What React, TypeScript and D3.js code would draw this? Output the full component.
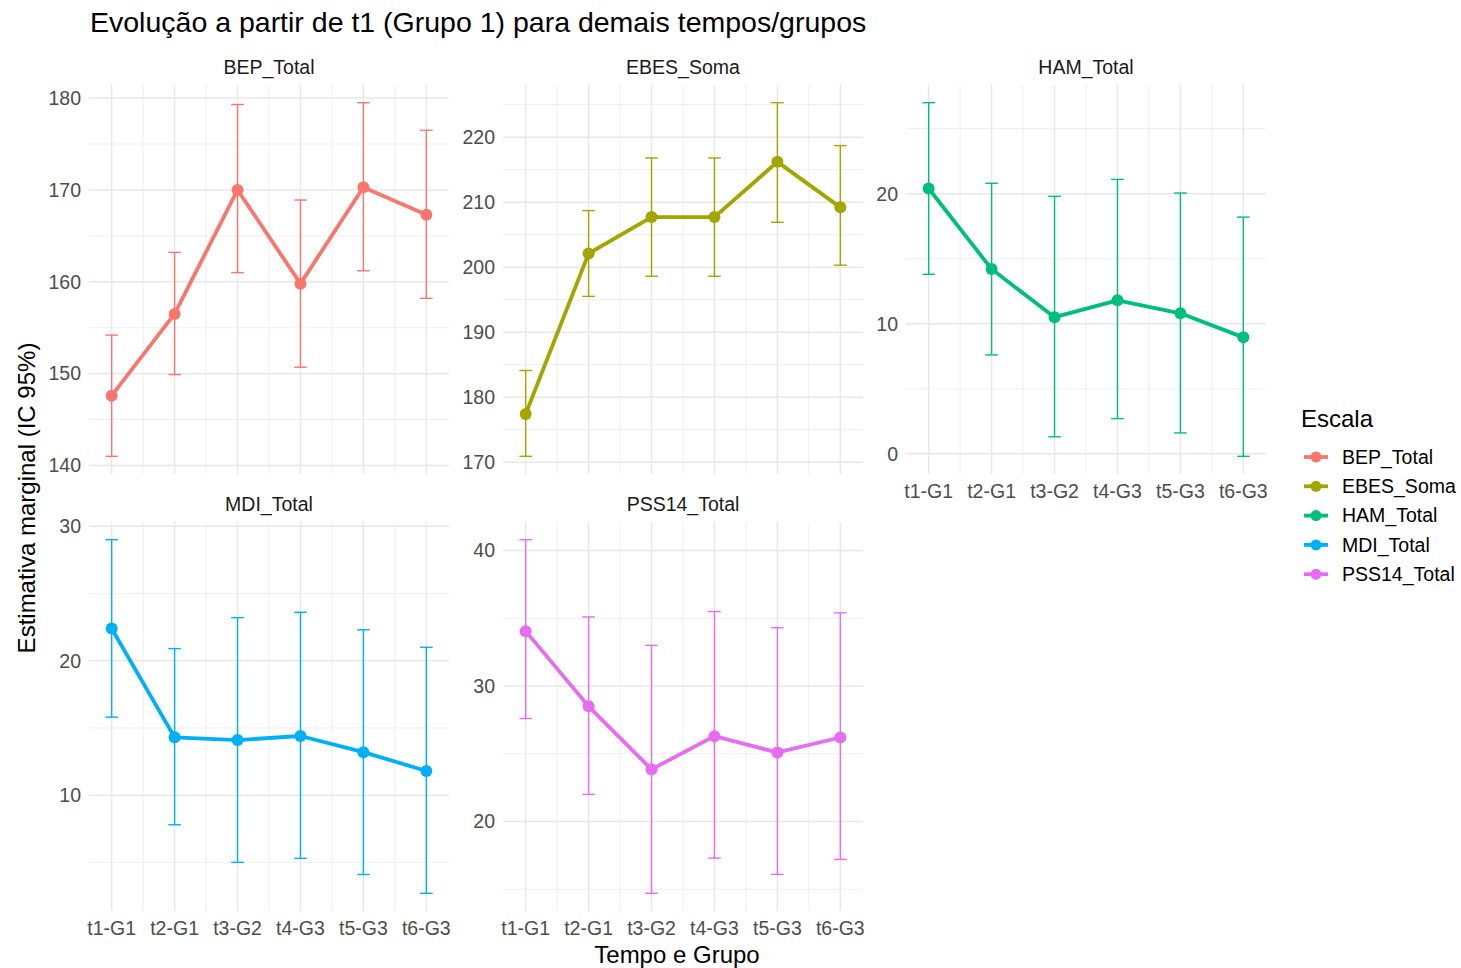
import React from "react";
import * as d3 from "d3";

const categories = ["t1-G1", "t2-G1", "t3-G2", "t4-G3", "t5-G3", "t6-G3"];
const scaleNames = ["BEP_Total", "EBES_Soma", "HAM_Total", "MDI_Total", "PSS14_Total"];
const scaleColors = ["#F8766D", "#A3A500", "#00BF7D", "#00B0F6", "#E76BF3"];

const bepEstimate = [147.6, 156.5, 170.0, 159.8, 170.3, 167.3];
const bepLower = [141.0, 149.9, 161.0, 150.7, 161.2, 158.2];
const bepUpper = [154.2, 163.2, 179.3, 168.9, 179.5, 176.5];

const ebesEstimate = [177.4, 202.1, 207.7, 207.7, 216.2, 209.2];
const ebesLower = [170.9, 195.5, 198.6, 198.6, 206.9, 200.3];
const ebesUpper = [184.1, 208.7, 216.8, 216.8, 225.3, 218.7];

const hamEstimate = [20.4, 14.2, 10.5, 11.8, 10.8, 8.95];
const hamLower = [13.8, 7.6, 1.3, 2.7, 1.6, -0.2];
const hamUpper = [27.0, 20.8, 19.8, 21.1, 20.05, 18.2];

const mdiEstimate = [22.4, 14.3, 14.1, 14.4, 13.2, 11.8];
const mdiLower = [15.8, 7.8, 5.0, 5.3, 4.1, 2.7];
const mdiUpper = [29.0, 20.9, 23.2, 23.6, 22.3, 21.0];

const pssEstimate = [34.05, 28.5, 23.85, 26.3, 25.1, 26.2];
const pssLower = [27.6, 22.0, 14.7, 17.3, 16.1, 17.2];
const pssUpper = [40.8, 35.1, 33.0, 35.5, 34.3, 35.4];

const bepTicks = [140, 150, 160, 170, 180];
const ebesTicks = [170, 180, 190, 200, 210, 220];
const hamTicks = [0, 10, 20];
const mdiTicks = [10, 20, 30];
const pssTicks = [20, 30, 40];

const titleText = "Evolução a partir de t1 (Grupo 1) para demais tempos/grupos";
const yTitle = "Estimativa marginal (IC 95%)";
const xTitle = "Tempo e Grupo";
const legendTitle = "Escala";

const FONT = "'Liberation Sans', Arial, Helvetica, sans-serif";
const TICK_FS = 19.5;

const panels = [
  { name: scaleNames[0], color: scaleColors[0], est: bepEstimate, lo: bepLower, hi: bepUpper, ticks: bepTicks, col: 0, row: 0, xAxis: false },
  { name: scaleNames[1], color: scaleColors[1], est: ebesEstimate, lo: ebesLower, hi: ebesUpper, ticks: ebesTicks, col: 1, row: 0, xAxis: false },
  { name: scaleNames[2], color: scaleColors[2], est: hamEstimate, lo: hamLower, hi: hamUpper, ticks: hamTicks, col: 2, row: 0, xAxis: true },
  { name: scaleNames[3], color: scaleColors[3], est: mdiEstimate, lo: mdiLower, hi: mdiUpper, ticks: mdiTicks, col: 0, row: 1, xAxis: true },
  { name: scaleNames[4], color: scaleColors[4], est: pssEstimate, lo: pssLower, hi: pssUpper, ticks: pssTicks, col: 1, row: 1, xAxis: true },
];

const colLeft = [89, 503, 906];
const panelW = 360;
const rowTop = [85, 522];
const panelH = 389;
const capW = 0.2;

function Panel({ p }: { p: any }) {
  const x0 = colLeft[p.col];
  const y0 = rowTop[p.row];
  const n = categories.length;
  const xmin = 1 - capW / 2, xmax = n + capW / 2;
  const xr = xmax - xmin;
  const x = d3.scaleLinear().domain([xmin - 0.05 * xr, xmax + 0.05 * xr]).range([x0, x0 + panelW]);
  const lo = d3.min(p.lo as number[])!;
  const hi = d3.max(p.hi as number[])!;
  const yr = hi - lo;
  const y = d3.scaleLinear().domain([lo - 0.05 * yr, hi + 0.05 * yr]).range([y0 + panelH, y0]);
  const [d0, d1] = y.domain();
  const step = p.ticks[1] - p.ticks[0];
  const minor: number[] = [];
  for (let v = p.ticks[0] - step / 2; v <= p.ticks[p.ticks.length - 1] + step / 2 + 1e-9; v += step) {
    if (v >= d0 && v <= d1) minor.push(v);
  }
  const xMinor = d3.range(1.5, n, 1);
  const idx = d3.range(n);
  const line = d3.line<number>().x((i) => x(i + 1)).y((i) => y(p.est[i]));
  return (
    <g>
      {minor.map((v) => (
        <line key={"hm" + v} x1={x0} x2={x0 + panelW} y1={y(v)} y2={y(v)} stroke="#EBEBEB" strokeWidth={0.8} />
      ))}
      {xMinor.map((v) => (
        <line key={"vm" + v} x1={x(v)} x2={x(v)} y1={y0} y2={y0 + panelH} stroke="#EBEBEB" strokeWidth={0.8} />
      ))}
      {p.ticks.map((v: number) => (
        <line key={"hM" + v} x1={x0} x2={x0 + panelW} y1={y(v)} y2={y(v)} stroke="#E8E8E8" strokeWidth={1.5} />
      ))}
      {idx.map((i) => (
        <line key={"vM" + i} x1={x(i + 1)} x2={x(i + 1)} y1={y0} y2={y0 + panelH} stroke="#E8E8E8" strokeWidth={1.5} />
      ))}
      {p.ticks.map((v: number) => (
        <text key={"yt" + v} x={x0 - 8} y={y(v)} dy="0.35em" textAnchor="end" fontSize={TICK_FS} fill="#4D4D4D" fontFamily={FONT}>
          {v}
        </text>
      ))}
      {p.xAxis &&
        categories.map((c, i) => (
          <text key={"xt" + c} x={x(i + 1)} y={y0 + panelH + 24} textAnchor="middle" fontSize={TICK_FS} fill="#4D4D4D" fontFamily={FONT}>
            {c}
          </text>
        ))}
      <text x={x0 + panelW / 2} y={y0 - 11} textAnchor="middle" fontSize={TICK_FS} fill="#1A1A1A" fontFamily={FONT}>
        {p.name}
      </text>
      {idx.map((i) => (
        <g key={"eb" + i} stroke={p.color} strokeWidth={1.4}>
          <line x1={x(i + 1)} x2={x(i + 1)} y1={y(p.lo[i])} y2={y(p.hi[i])} />
          <line x1={x(i + 1 - capW / 2)} x2={x(i + 1 + capW / 2)} y1={y(p.lo[i])} y2={y(p.lo[i])} />
          <line x1={x(i + 1 - capW / 2)} x2={x(i + 1 + capW / 2)} y1={y(p.hi[i])} y2={y(p.hi[i])} />
        </g>
      ))}
      <path d={line(idx) || ""} fill="none" stroke={p.color} strokeWidth={3.8} strokeLinejoin="round" />
      {idx.map((i) => (
        <circle key={"pt" + i} cx={x(i + 1)} cy={y(p.est[i])} r={6} fill={p.color} />
      ))}
    </g>
  );
}

export default function App() {
  const legendX = 1301;
  const legendY0 = 457;
  const legendStep = 29.3;
  return (
    <svg width={1461} height={968} style={{ position: "absolute", left: 0, top: 0, background: "#fff" }}>
      <rect width={1461} height={968} fill="#fff" />
      <text x={90} y={32} fontSize={28.5} fill="#000" fontFamily={FONT}>
        {titleText}
      </text>
      {panels.map((p) => (
        <Panel key={p.name} p={p} />
      ))}
      <text transform={`translate(35,498) rotate(-90)`} textAnchor="middle" fontSize={24} fill="#000" fontFamily={FONT}>
        {yTitle}
      </text>
      <text x={677} y={963} textAnchor="middle" fontSize={24} fill="#000" fontFamily={FONT}>
        {xTitle}
      </text>
      <text x={legendX} y={427} fontSize={24} fill="#000" fontFamily={FONT}>
        {legendTitle}
      </text>
      {scaleNames.map((s, i) => {
        const cy = legendY0 + i * legendStep;
        return (
          <g key={"lg" + s}>
            <line x1={legendX + 3} x2={legendX + 27} y1={cy} y2={cy} stroke={scaleColors[i]} strokeWidth={3.8} />
            <circle cx={legendX + 15} cy={cy} r={5.5} fill={scaleColors[i]} />
            <text x={legendX + 41} y={cy} dy="0.35em" fontSize={TICK_FS} fill="#000" fontFamily={FONT}>
              {s}
            </text>
          </g>
        );
      })}
    </svg>
  );
}
